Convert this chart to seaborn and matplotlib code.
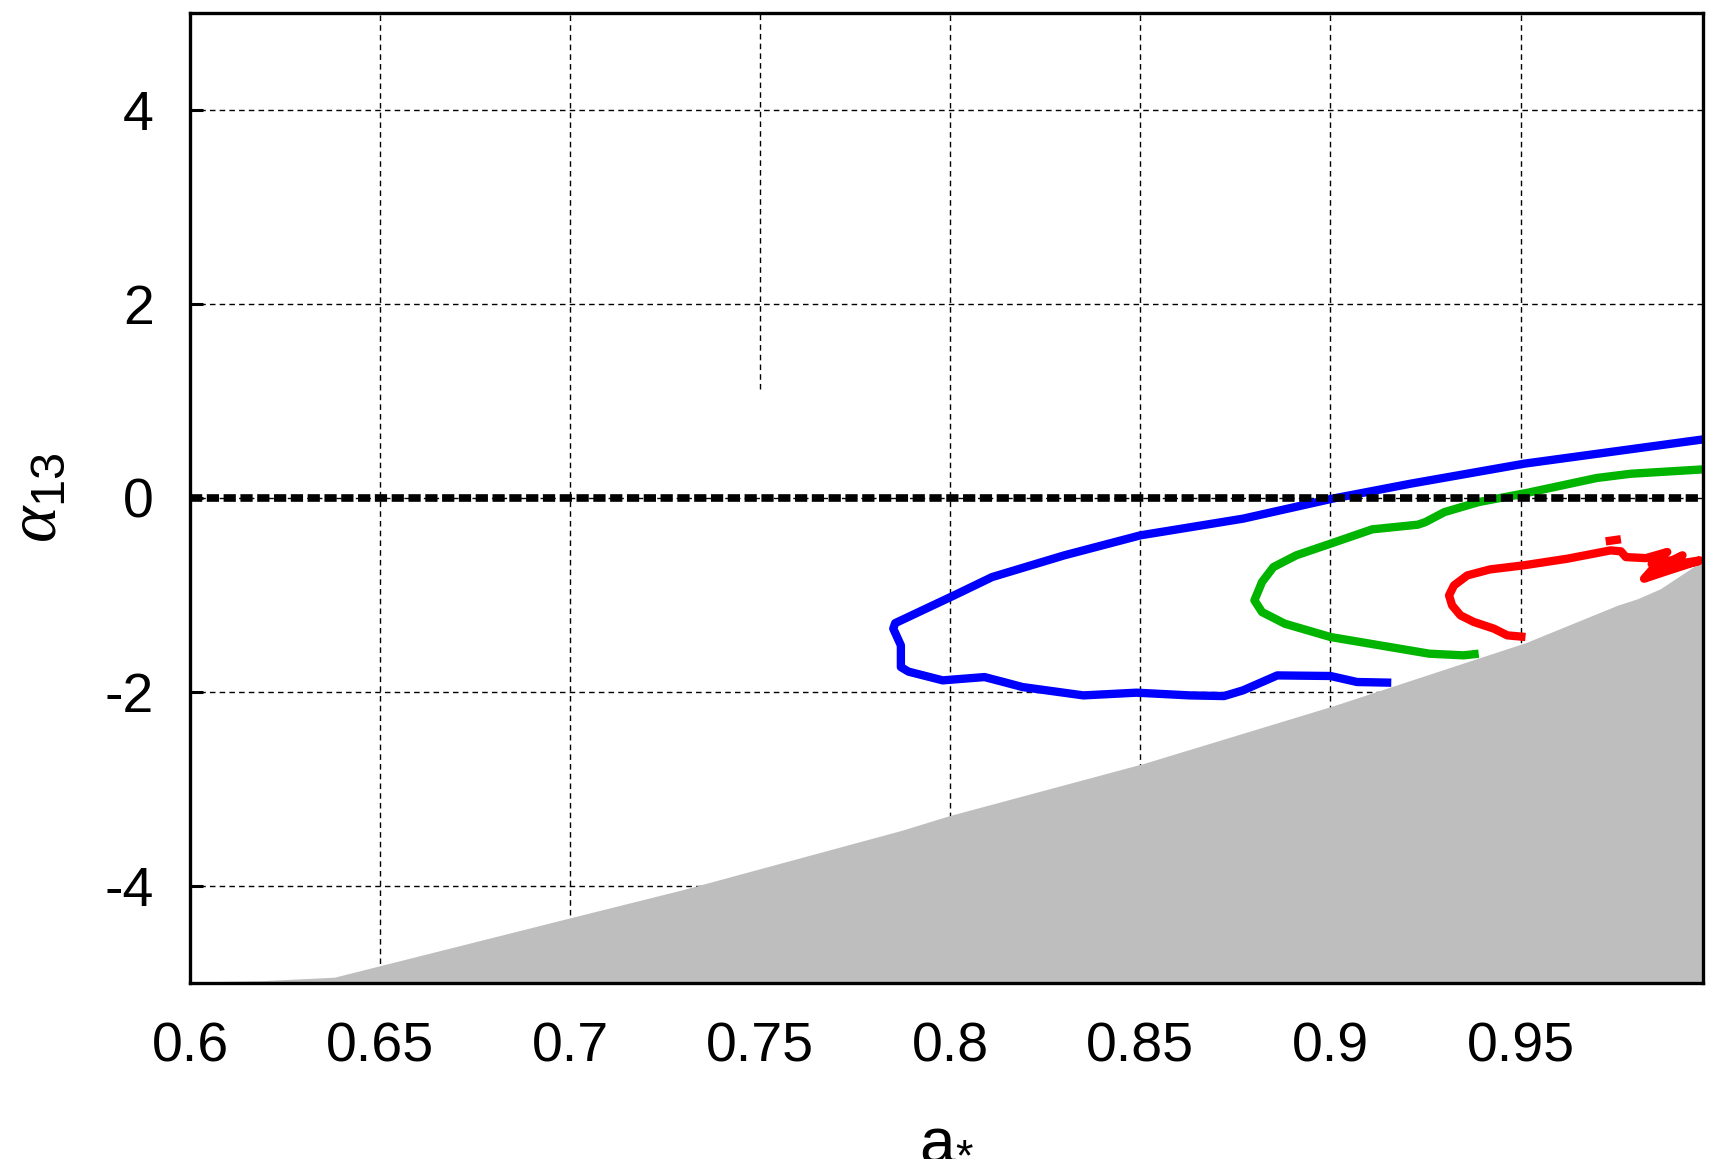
import pandas as pd
import seaborn as sns
import matplotlib.pyplot as plt

# --- data ---
# excluded (gray) region: upper boundary
gray_x = [0.600, 0.619, 0.638, 0.700, 0.730, 0.787, 0.800, 0.851, 0.901, 0.9515, 0.9754, 0.9808, 0.9868, 0.9974, 0.998]
gray_y = [-4.99, -4.976, -4.94, -4.328, -4.034, -3.428, -3.272, -2.735, -2.139, -1.489, -1.107, -1.038, -0.935, -0.660, -0.650]

# blue contour
blue_x = [0.998, 0.951, 0.921, 0.9005, 0.877, 0.850, 0.830, 0.811, 0.801, 0.788, 0.7855, 0.785, 0.787, 0.787,
          0.789, 0.798, 0.809, 0.814, 0.819, 0.835, 0.849, 0.863, 0.872, 0.877, 0.886, 0.900, 0.907, 0.916]
blue_y = [0.604, 0.354, 0.147, -0.007, -0.213, -0.385, -0.591, -0.815, -1.004, -1.244, -1.29, -1.347, -1.519, -1.743,
          -1.79, -1.880, -1.846, -1.897, -1.949, -2.035, -2.007, -2.035, -2.042, -1.983, -1.829, -1.835, -1.897, -1.904]

# green contour
green_x = [0.998, 0.979, 0.970, 0.952, 0.939, 0.930, 0.925, 0.923, 0.911, 0.900, 0.891, 0.885, 0.882,
           0.880, 0.882, 0.888, 0.900, 0.913, 0.926, 0.935, 0.939]
green_y = [0.295, 0.250, 0.206, 0.055, -0.042, -0.145, -0.248, -0.275, -0.323, -0.471, -0.591, -0.712, -0.866,
           -1.055, -1.176, -1.296, -1.433, -1.519, -1.605, -1.622, -1.605]

# red contour (noisy near the edge)
red_x = [0.9513, 0.9465, 0.943, 0.9377, 0.9342, 0.932, 0.9312, 0.9325, 0.936, 0.942, 0.9507, 0.9623,
         0.9737, 0.9764, 0.9777, 0.9830, 0.9886, 0.9845, 0.9900, 0.9926, 0.9895, 0.9972, 0.9880,
         0.9825, 0.9850, 0.9935, 0.9970]
red_y = [-1.433, -1.416, -1.347, -1.278, -1.210, -1.107, -1.004, -0.901, -0.798, -0.736, -0.695, -0.626,
         -0.540, -0.550, -0.609, -0.620, -0.557, -0.680, -0.640, -0.591, -0.690, -0.643, -0.760,
         -0.832, -0.720, -0.680, -0.650]
red_island_x = [0.9724, 0.9764]
red_island_y = [-0.447, -0.425]

x_ticks = [0.6, 0.65, 0.7, 0.75, 0.8, 0.85, 0.9, 0.95]
x_ticklabels = ['0.6', '0.65', '0.7', '0.75', '0.8', '0.85', '0.9', '0.95']
y_ticks = [-4, -2, 0, 2, 4]
y_ticklabels = ['-4', '-2', '0', '2', '4']

sns.set_style('white')
plt.rcParams['font.family'] = ['Liberation Sans', 'DejaVu Sans']
plt.rcParams['text.color'] = 'black'
plt.rcParams['axes.labelcolor'] = 'black'
plt.rcParams['xtick.color'] = 'black'
plt.rcParams['ytick.color'] = 'black'
plt.rcParams['mathtext.fontset'] = 'custom'
plt.rcParams['mathtext.rm'] = 'Liberation Sans'
plt.rcParams['mathtext.it'] = 'Liberation Serif:italic'
plt.rcParams['mathtext.sf'] = 'Liberation Sans'

fig = plt.figure(figsize=(17.16, 11.73), dpi=100)
ax = fig.add_axes([190 / 1716, 1 - 983 / 1173, 1513 / 1716, 970 / 1173])

# grid (behind everything)
ax.set_xticks(x_ticks)
ax.set_yticks(y_ticks)
ax.grid(True, color='black', linestyle=(0, (4, 3)), linewidth=1.0, zorder=0)
ax.set_axisbelow(True)

gray = pd.DataFrame({'x': gray_x, 'y': gray_y})
ax.fill_between(gray['x'], -5, gray['y'], color='#bebebe', linewidth=0, zorder=1)

line_kw = dict(estimator=None, sort=False, linewidth=6, legend=False,
               solid_capstyle='butt', solid_joinstyle='round', zorder=3)
sns.lineplot(data=pd.DataFrame({'x': blue_x, 'y': blue_y}), x='x', y='y', color='#0000ff', ax=ax, **line_kw)
sns.lineplot(data=pd.DataFrame({'x': green_x, 'y': green_y}), x='x', y='y', color='#00b400', ax=ax, **line_kw)
sns.lineplot(data=pd.DataFrame({'x': red_x, 'y': red_y}), x='x', y='y', color='#ff0000', ax=ax, **line_kw)
sns.lineplot(data=pd.DataFrame({'x': red_island_x, 'y': red_island_y}), x='x', y='y', color='#ff0000', ax=ax, **line_kw)

# alpha_13 = 0 reference line
ax.axhline(0, color='black', linewidth=5.5, linestyle=(0, (1.6, 0.6)), zorder=4)

ax.set_xlim(0.6, 0.998)
ax.set_ylim(-5, 5)
ax.set_xticklabels(x_ticklabels)
ax.set_yticklabels(y_ticklabels)

# the 0.75 grid line is only visible in the upper part in the original
for gl, xv in zip(ax.get_xgridlines(), x_ticks):
    if xv == 0.75:
        gl.set_ydata([0.612, 1.0])

for s in ax.spines.values():
    s.set_linewidth(2.4)
    s.set_color('black')
    s.set_zorder(5)

ax.tick_params(axis='y', direction='in', length=9.5, width=2.2, pad=26, labelsize=40, left=True)
ax.tick_params(axis='x', direction='in', length=0, pad=28, labelsize=40, bottom=True)

ax.set_xlabel(r'a$_{*}$', fontsize=46, va='baseline')
ax.xaxis.set_label_coords(0.5, -0.178)
ax.set_ylabel(r'$\alpha_{\mathrm{13}}$', fontsize=50, va='center')
ax.yaxis.set_label_coords(-0.101, 0.5)

plt.savefig('out.png', dpi=100)
